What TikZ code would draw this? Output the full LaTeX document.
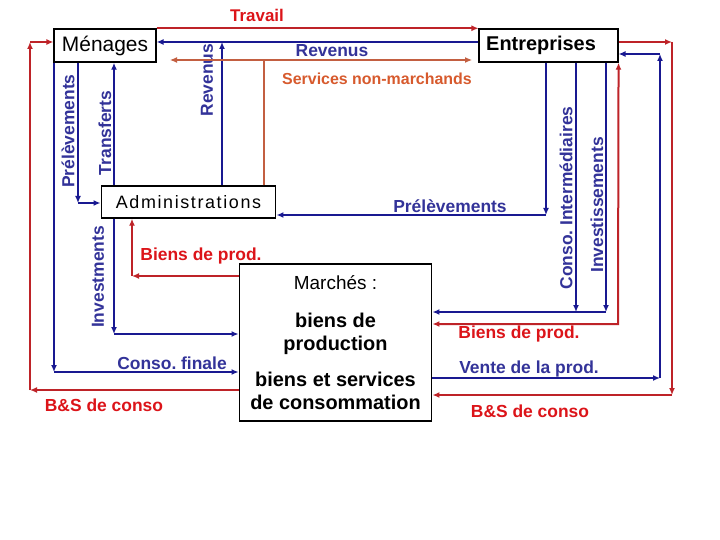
\documentclass[tikz,border=0pt]{standalone}
\usepackage{fontspec}
\setmainfont{Liberation Sans}
\usetikzlibrary{arrows.meta}
\definecolor{bleu}{RGB}{25,25,145}
\definecolor{bleutxt}{RGB}{51,51,153}
\definecolor{rouge}{RGB}{190,35,40}
\definecolor{rougetxt}{RGB}{220,20,25}
\definecolor{orangeligne}{RGB}{195,95,65}
\definecolor{orangetxt}{RGB}{215,90,45}
\frenchspacing
\begin{document}
\begin{tikzpicture}[x=1bp,y=-1bp,>={Latex[length=7bp,width=6bp]},
  boite/.style={draw,line width=1.6bp,inner sep=0pt,fill=white},
  fb/.style={line width=2bp,bleu},
  fr/.style={line width=2bp,rouge},
  fo/.style={line width=1.1bp,orangeligne},
  lb/.style={font=\bfseries\fontsize{17.5}{20}\selectfont,text=bleutxt,inner sep=0pt},
  lr/.style={font=\bfseries\fontsize{17.5}{20}\selectfont,text=rougetxt,inner sep=0pt}]
\useasboundingbox[fill=white] (0,0) rectangle (720,540);

% les agents
\node[boite,minimum width=102,minimum height=33,font=\fontsize{21}{24}\selectfont] (menages) at (105,45.5) {Ménages};
\node[boite,text width=125,inner xsep=7,minimum height=33,align=left,font=\bfseries\fontsize{20}{24}\selectfont] (entreprises) at (548.5,45.5) {Entreprises};
\node[boite,minimum width=175,minimum height=32,font=\fontsize{18}{22}\selectfont\addfontfeature{LetterSpace=9}] (admin) at (188.5,202) {Administrations};
\node[boite,minimum width=193,minimum height=157,align=center,font=\bfseries\fontsize{20}{23}\selectfont] (marches) at (335.5,342.5) {{\mdseries\fontsize{19}{23}\selectfont Marchés :}\\[16pt]biens de\\production\\[13pt]biens et services\\de consommation};

% Travail, Revenus, Services non-marchands
\draw[fr,->] (menages.north east) -- (entreprises.north west);
\node[lr,font=\bfseries\fontsize{17}{20}\selectfont] (lTravail) at (257,15) {Travail};
\coordinate (rev) at (222,42);
\draw[fb,->] (entreprises.west |- rev) -- (menages.east |- rev);
\draw[fb,->] (admin.north -| rev) -- (rev);
\node[lb] (lRevenus) at (332,51) {Revenus};
\node[lb,rotate=90] (lRevV) at (207,80) {Revenus};
\coordinate (snm) at (264,60);
\coordinate (snmG) at (170,60);
\coordinate (snmD) at (472,60);
\draw[fo] (admin.north -| snm) -- (snm);
\draw[fo,->] (snm) -- (snmG);
\draw[fo,->] (snm) -- (snmD);
\node[font=\bfseries\fontsize{16}{19}\selectfont,text=orangetxt,inner sep=0pt] (lSnm) at (377,79) {Services non-marchands};

% cote gauche
\coordinate (trf) at (114,0);
\draw[fb,->] (admin.north -| trf) -- (menages.south -| trf);
\node[lb,rotate=90] (lTrf) at (105,133) {Transferts};
\coordinate (prelG) at (78,203);
\draw[fb,->] (menages.south -| prelG) -- (prelG);
\draw[fb,->] (prelG) -- (admin.west |- prelG);
\node[lb,rotate=90] (lPrelG) at (68,131) {Prélèvements};
\coordinate (cf) at (54,372);
\draw[fb,->] (menages.south -| cf) -- (cf);
\draw[fb,->] (cf) -- (marches.west |- cf);
\node[lb] (lCf) at (172,363) {Conso. finale};
\coordinate (inv) at (114,334);
\draw[fb,->] (admin.south -| inv) -- (inv);
\draw[fb,->] (inv) -- (marches.west |- inv);
\node[lb,rotate=90] (lInv) at (98,277) {Investments};
\coordinate (bpG) at (132,276);
\draw[fr,->] (marches.west |- bpG) -- (bpG);
\draw[fr,->] (bpG) -- (admin.south -| bpG);
\node[lr] (lBpG) at (201,256) {Biens de prod.};
\coordinate (bsG) at (30,390);
\coordinate (bsGh) at (30,42);
\draw[fr,->] (marches.west |- bsG) -- (bsG);
\draw[fr,->] (bsG) -- (bsGh);
\draw[fr,->] (bsGh) -- (menages.west |- bsGh);
\node[lr] (lBsG) at (104,405) {B\&S de conso};

% cote droit
\coordinate (prelD) at (546,215);
\draw[fb,->] (entreprises.south -| prelD) -- (prelD);
\draw[fb,->] (prelD) -- (admin.east |- prelD);
\node[lb] (lPrelD) at (450,206) {Prélèvements};
\coordinate (ci) at (576,312);
\coordinate (ii) at (606,312);
\draw[fb,->] (entreprises.south -| ci) -- (ci);
\draw[fb,->] (entreprises.south -| ii) -- (ii);
\draw[fb,->] (ii) -- (marches.east |- ii);
\node[lb,rotate=90] (lCi) at (566,198) {Conso. Intermédiaires};
\node[lb,rotate=90] (lInvD) at (597,205) {Investissements};
\coordinate (bpD) at (618,324);
\draw[fr,<->] (marches.east |- bpD) -- (bpD) -- (entreprises.south east);
\node[lr] (lBpD) at (519,334) {Biens de prod.};
\coordinate (vp) at (660,378);
\coordinate (vph) at (660,54);
\draw[fb,->] (marches.east |- vp) -- (vp);
\draw[fb,->] (vp) -- (vph);
\draw[fb,->] (vph) -- (entreprises.east |- vph);
\node[lb] (lVp) at (529,369) {Vente de la prod.};
\coordinate (bsDh) at (672,42);
\coordinate (bsD) at (672,395);
\draw[fr,->] (entreprises.east |- bsDh) -- (bsDh);
\draw[fr,->] (bsDh) -- (bsD);
\draw[fr,->] (bsD) -- (marches.east |- bsD);
\node[lr] (lBsD) at (530,411) {B\&S de conso};
\end{tikzpicture}
\end{document}
